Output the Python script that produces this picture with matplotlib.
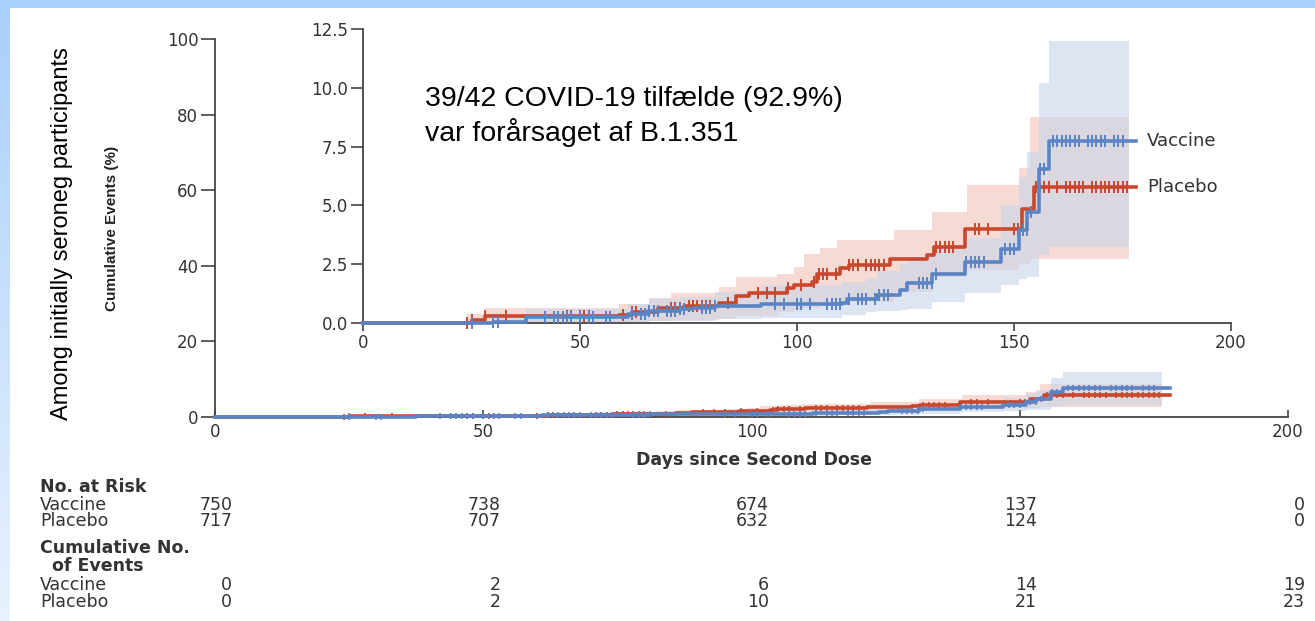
import matplotlib
matplotlib.use("Agg")
import matplotlib.pyplot as plt
import numpy as np
from matplotlib.colors import LinearSegmentedColormap
from matplotlib.patches import Rectangle
from matplotlib.transforms import blended_transform_factory

# Kaplan-Meier step curves (cumulative events, %)
placebo_t = [0, 25, 28, 59, 62, 68, 74, 82, 86, 89, 97.7, 99.2, 103.5, 104.6, 110, 112,
             121.5, 130, 131.5, 138.8, 151.9, 154.6, 178]
placebo_v = [0, 0.14, 0.28, 0.34, 0.45, 0.62, 0.72, 0.83, 1.14, 1.26, 1.47, 1.60, 1.75, 2.10,
             2.32, 2.46, 2.74, 2.90, 3.23, 4.01, 4.86, 5.78, 5.78]
vaccine_t = [0, 30, 37.5, 61, 65.7, 73, 76, 81, 91.6, 110.4, 111.5, 118.5, 123.8, 125.4,
             131.2, 138.8, 146.9, 151.2, 153.1, 155.8, 158, 178]
vaccine_v = [0, 0.06, 0.27, 0.40, 0.51, 0.58, 0.62, 0.72, 0.80, 0.87, 1.00, 1.19, 1.40, 1.68,
             2.10, 2.60, 3.16, 3.94, 4.72, 6.55, 7.73, 7.73]

# 95% confidence bands
placebo_ci_t = [0, 24, 28, 59, 66, 71, 82, 86, 95.4, 99.2, 101.5, 105.4, 109.2, 122.3, 131.2,
                139.2, 151.2, 153.8, 176.5]
placebo_hi = [0, 0.40, 0.62, 0.80, 1.05, 1.26, 1.51, 1.96, 2.10, 2.40, 2.95, 3.20, 3.52, 3.94,
              4.72, 5.85, 6.60, 8.74, 8.74]
placebo_lo = [0, 0, 0.02, 0.05, 0.08, 0.12, 0.18, 0.30, 0.45, 0.55, 0.65, 0.75, 0.90, 1.30,
              1.96, 2.25, 2.50, 2.74, 2.74]
vaccine_ci_t = [0, 30, 37.5, 61, 66, 73, 81, 92, 110.4, 116, 118.5, 123.8, 125.4, 131.2, 138.8,
                146.9, 151.2, 153.1, 155.8, 158, 176.5]
vaccine_hi = [0, 0.30, 0.60, 0.80, 1.00, 1.10, 1.30, 1.60, 1.75, 1.90, 2.20, 2.50, 2.80, 3.30,
              3.60, 5.00, 6.20, 7.26, 10.2, 12.0, 12.0]
vaccine_lo = [0, 0, 0.01, 0.05, 0.08, 0.10, 0.15, 0.20, 0.34, 0.45, 0.50, 0.55, 0.60, 0.90,
              1.26, 1.60, 1.89, 1.95, 2.90, 3.23, 3.23]

# censoring days
placebo_cens = [24, 25, 28, 33, 47, 48, 50, 51, 52, 60, 62, 63, 71, 72, 73, 75, 76, 77, 78, 79,
                80, 84, 91, 93, 95, 98, 101, 104, 105, 106, 107, 109, 112, 113, 114, 116, 117,
                118, 119, 120, 132, 133, 134, 135, 136, 141, 142, 144, 150, 151, 155, 156, 157,
                158, 160, 162, 163, 164, 165, 166, 168, 169, 170, 171, 172, 173, 174, 175, 176]
vaccine_cens = [25, 30, 31, 42, 44, 45, 46, 47, 48, 50, 52, 53, 56, 57, 62, 64, 65, 66, 67, 68,
                70, 71, 72, 73, 74, 78, 79, 80, 81, 95, 97, 100, 101, 103, 107, 108, 109, 110,
                112, 114, 115, 116, 118, 119, 120, 121, 128, 129, 130, 131, 132, 139, 140, 141,
                142, 143, 148, 149, 150, 152, 153, 154, 156, 157, 159, 160, 161, 162, 163, 164,
                165, 167, 168, 169, 170, 171, 173, 174, 175]

x_ticks = [0, 50, 100, 150, 200]
main_y_ticks = [0, 20, 40, 60, 80, 100]
inset_y_ticks = [0, 2.5, 5.0, 7.5, 10.0, 12.5]
inset_y_labels = ["0.0", "2.5", "5.0", "7.5", "10.0", "12.5"]

at_risk_vaccine = [750, 738, 674, 137, 0]
at_risk_placebo = [717, 707, 632, 124, 0]
events_vaccine = [0, 2, 6, 14, 19]
events_placebo = [0, 2, 10, 21, 23]

RED = "#c9472c"
BLUE = "#5b84c4"
RED_BAND = "#f3c2b8"
BLUE_BAND = "#c9d5ea"
GREY = "#333333"

W, H = 1315, 621


def fx(px):
    return px / W


def fy(py):
    return 1 - py / H


def step_at(t, v, days):
    idx = np.searchsorted(t, days, side="right") - 1
    return np.asarray(v)[idx]


def draw_curves(ax, lw, ms, mew):
    ax.fill_between(placebo_ci_t, placebo_lo, placebo_hi, step="post", color=RED_BAND,
                    alpha=0.6, lw=0)
    ax.fill_between(vaccine_ci_t, vaccine_lo, vaccine_hi, step="post", color=BLUE_BAND,
                    alpha=0.6, lw=0)
    ax.step(placebo_t, placebo_v, where="post", color=RED, lw=lw, clip_on=False, zorder=3)
    ax.step(vaccine_t, vaccine_v, where="post", color=BLUE, lw=lw, clip_on=False, zorder=4)
    ax.plot(placebo_cens, step_at(placebo_t, placebo_v, placebo_cens), ls="none",
            marker="|", ms=ms, mew=mew, color=RED, clip_on=False, zorder=3)
    ax.plot(vaccine_cens, step_at(vaccine_t, vaccine_v, vaccine_cens), ls="none",
            marker="|", ms=ms, mew=mew, color=BLUE, clip_on=False, zorder=4)


def style_axes(ax):
    for side in ["top", "right"]:
        ax.spines[side].set_visible(False)
    for side in ["left", "bottom"]:
        ax.spines[side].set_color("#444444")
        ax.spines[side].set_linewidth(1.3)
    ax.tick_params(colors="#444444", labelcolor=GREY, labelsize=12)
    ax.set_xlim(0, 200)
    ax.set_xticks(x_ticks)


fig = plt.figure(figsize=(W / 100, H / 100), dpi=100)
fig.patch.set_facecolor("white")

# light blue frame (top bar + left gradient strip)
fig.add_artist(Rectangle((0, fy(8)), 1, 8 / H, transform=fig.transFigure,
                         color="#a9d0fa", lw=0))
ax_bg = fig.add_axes([0, 0, fx(10), fy(8)])
grad = np.linspace(0, 1, 256).reshape(-1, 1)
ax_bg.imshow(grad, aspect="auto",
             cmap=LinearSegmentedColormap.from_list("bg", ["#a9d0fa", "#e9f2fe"]))
ax_bg.axis("off")

# main plot
ax = fig.add_axes([fx(215), fy(417), fx(1288 - 215), (417 - 39) / H])
ax.set_facecolor("none")
draw_curves(ax, 2.6, 5, 1.2)
style_axes(ax)
ax.set_ylim(0, 100)
ax.set_yticks(main_y_ticks)
ax.tick_params(axis="y", length=10, width=1.2, direction="out", pad=2)
ax.tick_params(axis="x", length=5, width=1.2, direction="in", pad=4)

# inset
axi = fig.add_axes([fx(363), fy(323), fx(1231 - 363), (323 - 29) / H])
axi.set_facecolor("none")
draw_curves(axi, 2.6, 9, 1.4)
style_axes(axi)
axi.set_ylim(0, 12.5)
axi.set_yticks(inset_y_ticks)
axi.set_yticklabels(inset_y_labels)
axi.tick_params(axis="y", length=9, width=1.2, direction="out", pad=2)
axi.tick_params(axis="x", length=6, width=1.2, direction="out", pad=2)
axi.text(180.6, vaccine_v[-1], "Vaccine", va="center", ha="left", fontsize=13, color=GREY)
axi.text(180.6, placebo_v[-1], "Placebo", va="center", ha="left", fontsize=13, color=GREY)

# annotation
fig.text(fx(425), fy(99), "39/42 COVID-19 tilfælde (92.9%)", fontsize=20.5,
         family="Liberation Sans", va="center")
fig.text(fx(425), fy(132), "var forårsaget af B.1.351", fontsize=20.5,
         family="Liberation Sans", va="center")

# y labels
fig.text(fx(62), fy(234), "Among initially seroneg participants", rotation=90, fontsize=17,
         family="Liberation Sans", ha="center", va="center")
fig.text(fx(112), fy(228), "Cumulative Events (%)", rotation=90, fontsize=11,
         family="Liberation Sans", weight="bold", color="#222222",
         ha="center", va="center")

# x label and risk table
fig.text(fx(754), fy(460), "Days since Second Dose", fontsize=12.5, weight="bold", color=GREY,
         ha="center", va="center")
rows = [("No. at Risk", 40, 487, True), ("Vaccine", 40, 505, False),
        ("Placebo", 40, 521, False), ("Cumulative No.", 40, 548, True),
        ("of Events", 52, 566, True), ("Vaccine", 40, 585, False),
        ("Placebo", 40, 602, False)]
for label, x, y, bold in rows:
    fig.text(fx(x), fy(y), label, fontsize=12.5, weight="bold" if bold else "normal",
             color=GREY, va="center")

trans = blended_transform_factory(ax.transData, fig.transFigure)
for values, y in [(at_risk_vaccine, 505), (at_risk_placebo, 521),
                  (events_vaccine, 585), (events_placebo, 602)]:
    for day, val in zip(x_ticks, values):
        ax.text(day + 3.2, fy(y), str(val), transform=trans, ha="right", va="center",
                fontsize=12.5, color=GREY)

fig.savefig("out.png", dpi=100)
